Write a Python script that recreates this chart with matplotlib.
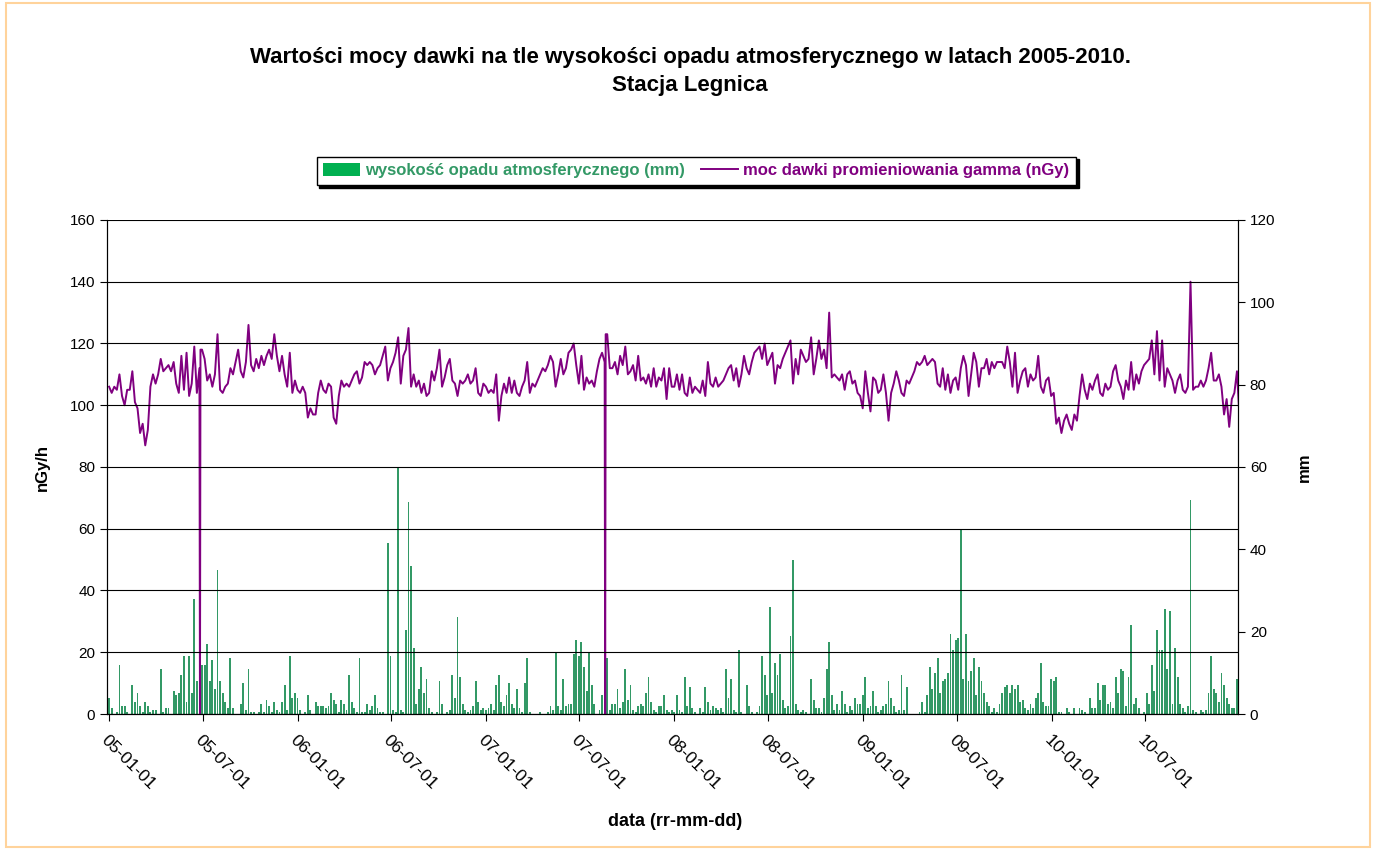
import pandas as pd
import matplotlib
matplotlib.use("Agg")
import matplotlib.pyplot as plt
import matplotlib.dates as mdates
from matplotlib.patches import Patch, Rectangle
from matplotlib.lines import Line2D

plt.rcParams['font.family'] = ['Liberation Sans', 'DejaVu Sans']

# Both series are sampled every 5 days starting 2005-01-01
START = '2005-01-01'
STEP = '5D'

# Gamma dose rate (nGy/h)
dose_2005 = [106, 104, 106, 105, 110, 103, 100, 105, 105, 111,
             101, 99, 91, 94, 87, 92, 106, 110, 107, 110,
             115, 111, 112, 113, 111, 114, 107, 104, 116, 105,
             117, 103, 107, 119, 104, 112, 118, 115, 108, 110,
             106, 110, 123, 105, 104, 106, 107, 112, 110, 114,
             118, 111, 109, 114, 126, 113, 111, 115, 112, 116,
             113, 116, 118, 115, 123, 116, 111, 116, 110, 106,
             117, 104, 108]
dose_2006 = [105, 104, 106, 104, 96, 99, 97, 97, 104, 108,
             105, 104, 107, 106, 96, 94, 103, 108, 106, 107,
             106, 108, 110, 111, 107, 109, 114, 113, 114, 113,
             110, 112, 113, 116, 119, 108, 112, 114, 117, 122,
             107, 116, 118, 125, 106, 110, 106, 108, 104, 107,
             103, 104, 111, 108, 112, 118, 106, 109, 113, 115,
             108, 107, 103, 108, 107, 108, 110, 107, 108, 112,
             104, 103, 107]
dose_2007 = [106, 104, 105, 104, 110, 95, 103, 107, 104, 109,
             104, 108, 104, 103, 106, 108, 114, 104, 107, 106,
             108, 110, 112, 111, 113, 116, 114, 106, 110, 115,
             110, 112, 117, 118, 120, 113, 107, 116, 105, 109,
             107, 108, 106, 111, 115, 117, 114, 123, 112, 112,
             114, 110, 116, 113, 119, 110, 111, 113, 108, 116,
             108, 109, 107, 110, 106, 112, 106, 109, 108, 112,
             102, 112, 106]
dose_2008 = [106, 110, 105, 110, 104, 103, 109, 104, 106, 105,
             104, 108, 103, 114, 107, 106, 109, 106, 107, 108,
             110, 112, 113, 108, 112, 106, 110, 116, 112, 110,
             114, 117, 118, 119, 115, 120, 113, 115, 117, 107,
             113, 112, 115, 117, 119, 121, 107, 115, 110, 118,
             116, 114, 115, 122, 110, 115, 121, 115, 118, 112,
             130, 109, 110, 109, 108, 110, 105, 110, 111, 107,
             108, 104, 103, 99]
dose_2009 = [111, 104, 98, 109, 108, 104, 105, 110, 104, 95,
             104, 107, 111, 108, 104, 103, 108, 107, 109, 111,
             114, 113, 114, 116, 113, 114, 115, 114, 107, 106,
             112, 105, 110, 104, 108, 109, 105, 112, 116, 113,
             103, 110, 117, 114, 106, 112, 112, 115, 110, 114,
             112, 114, 114, 114, 112, 119, 114, 106, 117, 104,
             108, 111, 112, 106, 110, 108, 109, 116, 106, 104,
             108, 109, 103]
dose_2010 = [104, 94, 96, 91, 95, 97, 94, 92, 97, 95,
             103, 110, 105, 102, 107, 105, 108, 110, 104, 103,
             107, 105, 106, 111, 113, 108, 106, 102, 108, 105,
             114, 105, 110, 107, 111, 113, 114, 115, 121, 110,
             124, 108, 121, 106, 112, 110, 108, 104, 108, 110,
             105, 104, 106, 140, 105, 106, 106, 108, 106, 108,
             112, 117, 108, 108, 110, 106, 97, 102, 93, 102,
             104, 111, 96]

# Days on which the probe reported zero
outage_dates = ['2005-06-26', '2007-08-20']

# Precipitation (mm)
rain_2005 = [4, 1.5, 0, 0.5, 12, 2, 2, 0.5, 0, 7,
             3, 5, 2, 0.5, 3, 2, 0.5, 1, 1, 0,
             11, 0.5, 1.5, 1.5, 0, 5.5, 4.5, 5, 9.5, 14,
             3, 14, 5, 28, 8, 0, 12, 12, 17, 8,
             13, 6, 35, 8, 5, 3, 1.5, 13.5, 1.5, 0,
             0, 2.5, 7.5, 1, 11, 0.5, 0.5, 0, 0.5, 2.5,
             0.5, 3.5, 2, 0.5, 3, 1, 0.5, 3, 7, 1,
             14, 4, 5]
rain_2006 = [4, 1, 0, 0.5, 4.5, 1, 0, 3, 2, 2,
             2, 1.5, 2, 5, 3.5, 2.5, 0.5, 3.5, 2.5, 1,
             9.5, 3, 1.5, 0.5, 13.5, 0.5, 0.5, 2.5, 1, 2,
             4.5, 1.5, 0.5, 0.5, 0, 41.5, 14, 1, 0.5, 60,
             1, 0.5, 20.5, 51.5, 36, 16, 2.5, 6, 11.5, 5,
             8.5, 1.5, 0.5, 0, 0.5, 8, 2.5, 0, 0.5, 1,
             9.5, 4, 23.5, 9, 2.5, 1, 0.5, 1, 2, 8,
             3, 1, 1.5]
rain_2007 = [1, 1.5, 2.5, 1, 7, 9.5, 3, 2, 4.5, 7.5,
             2.5, 1.5, 6, 1.5, 0.5, 7.5, 13.5, 0.5, 0, 0,
             0, 0.5, 0, 0, 0.5, 2, 1, 15, 2, 1,
             8.5, 2, 2.5, 2.5, 14.5, 18, 14, 17.5, 11.5, 5.5,
             15, 7, 2.5, 0, 1, 4.5, 20, 13.5, 1, 2.5,
             2.5, 6, 1.5, 3, 11, 3.5, 7, 1, 0.5, 2,
             2.5, 2, 5, 9, 3, 1, 0.5, 2, 2, 4.5,
             1, 0.5, 1]
rain_2008 = [0.5, 4.5, 1, 0.5, 9, 2, 6.5, 1.5, 0.5, 0,
             1.5, 0.5, 6.5, 3, 1, 2, 1.5, 1, 1.5, 0.5,
             11, 4, 8.5, 1, 0.5, 15.5, 0.5, 0, 7, 2,
             0.5, 0, 0.5, 2, 14, 9.5, 4.5, 26, 5, 12.5,
             9.5, 14.5, 3.5, 1.5, 2, 19, 37.5, 2.5, 1, 0.5,
             1, 0.5, 0, 8.5, 3.5, 1.5, 1.5, 0.5, 4, 11,
             17.5, 4.5, 1, 2.5, 1, 5.5, 2.5, 0.5, 2, 1,
             4, 2.5, 2.5, 4.5]
rain_2009 = [9, 1.5, 2, 5.5, 2, 0.5, 1, 2, 2.5, 8,
             4, 2, 0.5, 1, 9.5, 1, 6.5, 0, 0, 0,
             0, 0.5, 3, 0.5, 4.5, 11.5, 6, 10, 13.5, 5,
             8, 8.5, 10, 19.5, 15.5, 18, 18.5, 45, 8.5, 19.5,
             8, 10.5, 13.5, 4.5, 11.5, 8, 5, 3, 2, 0.5,
             1.5, 0.5, 2.5, 5, 6.5, 7, 5, 7, 6, 7,
             3, 3.5, 1.5, 1, 2.5, 1.5, 4, 5, 12.5, 3,
             2, 2, 8.5]
rain_2010 = [8, 9, 0.5, 0.5, 0, 1.5, 0.5, 0, 1.5, 0,
             1.5, 1, 0.5, 0, 4, 1.5, 1.5, 7.5, 3.5, 7,
             7, 2.5, 3, 1.5, 9, 5, 11, 10.5, 2, 9,
             21.5, 2.5, 4, 1.5, 0, 0.5, 5, 2.5, 12, 5.5,
             20.5, 15.5, 15.5, 25.5, 11, 25, 2.5, 16, 9, 2.5,
             1.5, 0.5, 2, 52, 1, 0.5, 0, 1, 0.5, 1,
             5, 14, 6, 5, 3, 10, 7, 4, 2.5, 1.5,
             1.5, 8.5, 2.5]

TITLE_1 = 'Wartości mocy dawki na tle wysokości opadu atmosferycznego w latach 2005-2010.'
TITLE_2 = 'Stacja Legnica'
RAIN_LABEL = 'wysokość opadu atmosferycznego (mm)'
DOSE_LABEL = 'moc dawki promieniowania gamma (nGy)'

GREEN = '#339966'
GREEN_KEY = '#00B050'
PURPLE = '#800080'

dose = dose_2005 + dose_2006 + dose_2007 + dose_2008 + dose_2009 + dose_2010
rain = rain_2005 + rain_2006 + rain_2007 + rain_2008 + rain_2009 + rain_2010

dose_s = pd.Series(dose, index=pd.date_range(START, periods=len(dose), freq=STEP), dtype=float)
rain_dates = pd.date_range(START, periods=len(rain), freq=STEP)

# drop the line to zero on outage days (neighbours keep the surrounding readings)
one_day = pd.Timedelta(days=1)
extra = {}
for d in outage_dates:
    d = pd.Timestamp(d)
    extra[d - one_day] = dose_s[dose_s.index < d].iloc[-1]
    extra[d] = 0.0
    extra[d + one_day] = dose_s[dose_s.index > d].iloc[0]
dose_s = pd.concat([dose_s, pd.Series(extra)]).sort_index()

fig = plt.figure(figsize=(13.76, 8.5), dpi=100)
fig.patches.append(Rectangle((0.004, 0.003), 0.992, 0.994, transform=fig.transFigure,
                             fill=False, edgecolor='#FFD39B', linewidth=1.5))

ax = fig.add_axes([0.0778, 0.16, 0.8219, 0.5812])
ax2 = ax.twinx()
ax.set_zorder(ax2.get_zorder() + 1)
ax.patch.set_visible(False)

# precipitation bars on the right axis
ax2.bar(rain_dates, rain, width=3.6, color=GREEN, linewidth=0, align='center')
ax2.set_ylim(0, 120)
ax2.set_yticks(range(0, 121, 20))

# dose rate line on the left axis
ax.plot(dose_s.index, dose_s.values, color=PURPLE, linewidth=1.4)
ax.set_ylim(0, 160)
ax.set_yticks(range(0, 161, 20))
ax.grid(axis='y', color='black', linewidth=0.8)
ax.set_axisbelow(False)

ax.set_xlim(pd.Timestamp('2004-12-28'), pd.Timestamp('2010-12-28'))
ax.xaxis.set_major_locator(mdates.MonthLocator(bymonth=[1, 7], bymonthday=1))
ax.xaxis.set_major_formatter(mdates.DateFormatter('%y-%m-%d'))

for a in (ax, ax2):
    a.tick_params(labelsize=11, length=5, width=0.8, colors='black')
    a.spines['top'].set_visible(False)
    for side in ('left', 'right', 'bottom'):
        a.spines[side].set_linewidth(0.8)
ax.tick_params(axis='x', pad=8, labelsize=12.5)

for lbl in ax.get_xticklabels():
    lbl.set_rotation(-45)
    lbl.set_ha('left')
    lbl.set_va('top')
    lbl.set_rotation_mode('anchor')

fig.text(0.5015, 0.932, TITLE_1, ha='center', va='center', fontsize=16, fontweight='bold')
fig.text(0.5015, 0.900, TITLE_2, ha='center', va='center', fontsize=16, fontweight='bold')
fig.text(0.031, 0.45, 'nGy/h', rotation=90, ha='center', va='center',
         fontsize=12, fontweight='bold')
fig.text(0.948, 0.45, 'mm', rotation=90, ha='center', va='center',
         fontsize=12, fontweight='bold')
fig.text(0.491, 0.033, 'data (rr-mm-dd)', ha='center', va='center',
         fontsize=13, fontweight='bold')

handles = [Patch(facecolor=GREEN_KEY, edgecolor='none'),
           Line2D([0], [0], color=PURPLE, linewidth=1.4)]
leg = fig.legend(handles, [RAIN_LABEL, DOSE_LABEL], loc='center',
                 bbox_to_anchor=(0.506, 0.799), ncol=2, fontsize=12,
                 frameon=True, fancybox=False, edgecolor='black',
                 handlelength=2.2, handleheight=0.8, handletextpad=0.3,
                 columnspacing=1.0, borderpad=0.4,
                 shadow={'color': 'black', 'alpha': 1})
leg.get_frame().set_linewidth(1.0)
for txt, col in zip(leg.get_texts(), (GREEN, PURPLE)):
    txt.set_color(col)
    txt.set_fontweight('bold')

fig.savefig('out.png', dpi=100)
